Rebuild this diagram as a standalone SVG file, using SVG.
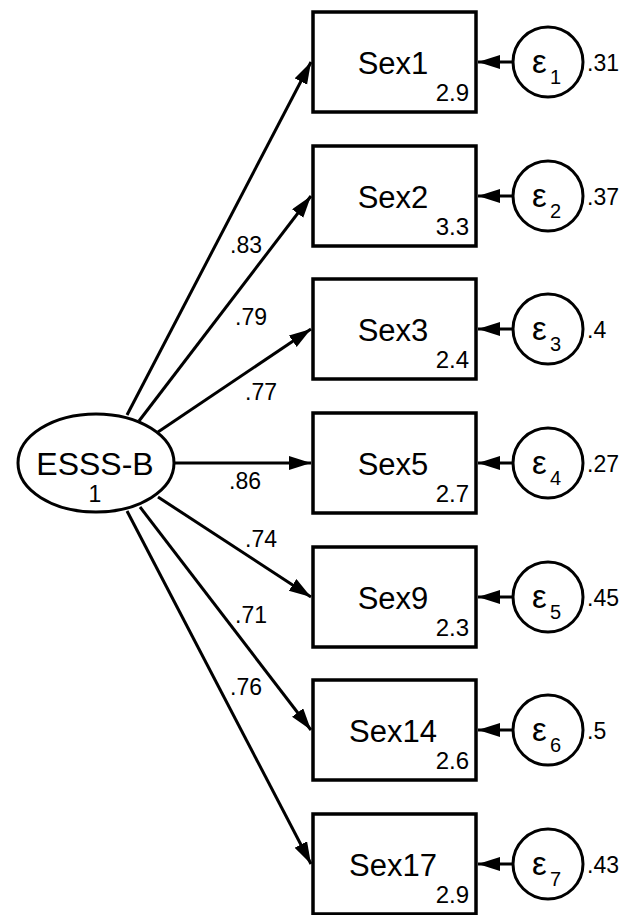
<svg xmlns="http://www.w3.org/2000/svg" width="632" height="915" viewBox="0 0 632 915">
<style>
text{font-family:"Liberation Sans",Arial,sans-serif;fill:#000}
.box{fill:#fff;stroke:#000;stroke-width:3.5}
.err{fill:#fff;stroke:#000;stroke-width:3}
.lat{fill:#fff;stroke:#000;stroke-width:3}
.ln{stroke:#000;stroke-width:3;fill:none;marker-end:url(#ah)}
.nm{font-size:31px;text-anchor:middle}
.mean{font-size:24px;text-anchor:end}
.eps{font-size:33px}
.sub{font-size:20px}
.var{font-size:23px}
.coef{font-size:23px}
</style>
<defs>
<marker id="ah" markerUnits="userSpaceOnUse" markerWidth="24" markerHeight="16" refX="22" refY="7" orient="auto">
<path d="M0,0 L22,7 L0,14 Z" fill="#000"/>
</marker>
</defs>
<rect width="632" height="915" fill="#fff"/>
<g id="connectors">
<line class="ln" x1="127" y1="415" x2="311" y2="62"/>
<line class="ln" x1="139" y1="421" x2="311" y2="196"/>
<line class="ln" x1="158" y1="432" x2="311" y2="329"/>
<line class="ln" x1="175" y1="463" x2="311" y2="463"/>
<line class="ln" x1="158" y1="497" x2="311" y2="597"/>
<line class="ln" x1="140" y1="507" x2="311" y2="730"/>
<line class="ln" x1="127" y1="511" x2="311" y2="864"/>
<line class="ln" x1="513" y1="62" x2="478" y2="62"/>
<line class="ln" x1="513" y1="196" x2="478" y2="196"/>
<line class="ln" x1="513" y1="329" x2="478" y2="329"/>
<line class="ln" x1="513" y1="463" x2="478" y2="463"/>
<line class="ln" x1="513" y1="597" x2="478" y2="597"/>
<line class="ln" x1="513" y1="730" x2="478" y2="730"/>
<line class="ln" x1="513" y1="864" x2="478" y2="864"/>
<text class="coef" x="230" y="253">.83</text>
<text class="coef" x="235" y="325">.79</text>
<text class="coef" x="245" y="400">.77</text>
<text class="coef" x="229" y="489">.86</text>
<text class="coef" x="245" y="547">.74</text>
<text class="coef" x="235" y="623">.71</text>
<text class="coef" x="230" y="695">.76</text>
</g>
<g id="ESSS-B">
<ellipse class="lat" cx="96" cy="463" rx="78" ry="49"/>
<text x="95" y="475" style="font-size:32px;text-anchor:middle">ESSS-B</text>
<text x="95" y="502" style="font-size:23px;text-anchor:middle">1</text>
</g>
<g id="Sex1">
<rect class="box" x="313" y="12" width="163" height="100"/>
<text class="nm" x="393" y="74">Sex1</text>
<text class="mean" x="469" y="101">2.9</text>
</g>
<g id="Sex2">
<rect class="box" x="313" y="146" width="163" height="100"/>
<text class="nm" x="393" y="208">Sex2</text>
<text class="mean" x="469" y="235">3.3</text>
</g>
<g id="Sex3">
<rect class="box" x="313" y="279" width="163" height="100"/>
<text class="nm" x="393" y="341">Sex3</text>
<text class="mean" x="469" y="368">2.4</text>
</g>
<g id="Sex5">
<rect class="box" x="313" y="413" width="163" height="100"/>
<text class="nm" x="393" y="475">Sex5</text>
<text class="mean" x="469" y="502">2.7</text>
</g>
<g id="Sex9">
<rect class="box" x="313" y="547" width="163" height="100"/>
<text class="nm" x="393" y="609">Sex9</text>
<text class="mean" x="469" y="636">2.3</text>
</g>
<g id="Sex14">
<rect class="box" x="313" y="680" width="163" height="100"/>
<text class="nm" x="393" y="742">Sex14</text>
<text class="mean" x="469" y="769">2.6</text>
</g>
<g id="Sex17">
<rect class="box" x="313" y="814" width="163" height="100"/>
<text class="nm" x="393" y="876">Sex17</text>
<text class="mean" x="469" y="903">2.9</text>
</g>
<g id="e1">
<circle class="err" cx="548" cy="62" r="35"/>
<text class="eps" x="532" y="73">ε</text><text class="sub" x="550" y="84">1</text>
<text class="var" x="587" y="71">.31</text>
</g>
<g id="e2">
<circle class="err" cx="548" cy="196" r="35"/>
<text class="eps" x="532" y="207">ε</text><text class="sub" x="550" y="218">2</text>
<text class="var" x="587" y="205">.37</text>
</g>
<g id="e3">
<circle class="err" cx="548" cy="329" r="35"/>
<text class="eps" x="532" y="340">ε</text><text class="sub" x="550" y="351">3</text>
<text class="var" x="587" y="338">.4</text>
</g>
<g id="e4">
<circle class="err" cx="548" cy="463" r="35"/>
<text class="eps" x="532" y="474">ε</text><text class="sub" x="550" y="485">4</text>
<text class="var" x="587" y="472">.27</text>
</g>
<g id="e5">
<circle class="err" cx="548" cy="597" r="35"/>
<text class="eps" x="532" y="608">ε</text><text class="sub" x="550" y="619">5</text>
<text class="var" x="587" y="606">.45</text>
</g>
<g id="e6">
<circle class="err" cx="548" cy="730" r="35"/>
<text class="eps" x="532" y="741">ε</text><text class="sub" x="550" y="752">6</text>
<text class="var" x="587" y="739">.5</text>
</g>
<g id="e7">
<circle class="err" cx="548" cy="864" r="35"/>
<text class="eps" x="532" y="875">ε</text><text class="sub" x="550" y="886">7</text>
<text class="var" x="587" y="873">.43</text>
</g>
</svg>
